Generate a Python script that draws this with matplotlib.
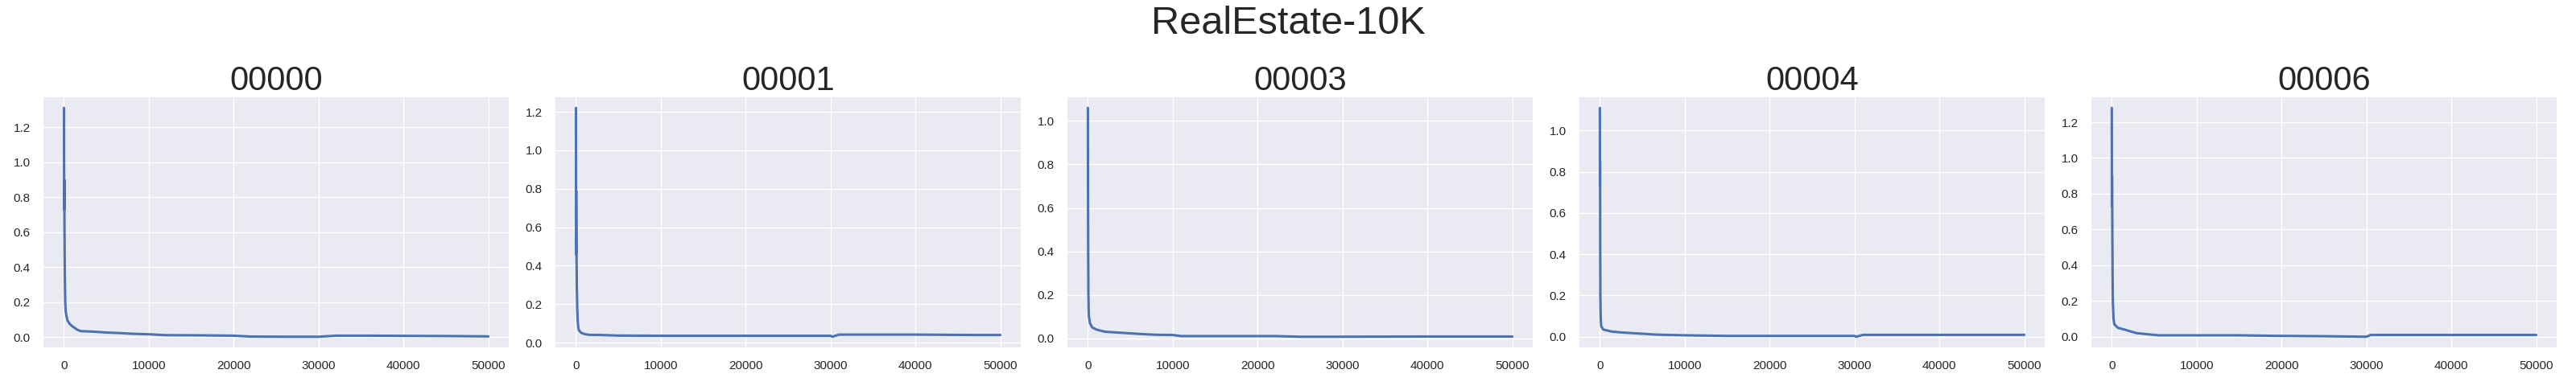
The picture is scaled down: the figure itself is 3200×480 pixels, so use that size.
"""
Training-loss curves for five RealEstate-10K scenes, one panel per scene.
"""
import matplotlib
matplotlib.use("Agg")
import matplotlib.pyplot as plt
import seaborn as sns

# --------------------------------------------------------------------------- #
# Data
# --------------------------------------------------------------------------- #
SUPTITLE = "RealEstate-10K"
RUN_IDS = ["00000", "00001", "00003", "00004", "00006"]

STEPS_00000 = [0, 10, 25, 40, 60, 90, 120, 150, 200, 300, 420, 700, 1000, 1600,
               2000, 3500, 5000, 6500, 8000, 10000, 12000, 16000, 20000, 22000,
               26000, 30000, 32000, 36000, 40000, 45000, 50000]
LOSS_00000 = [1.31, 0.95, 0.73, 0.90, 0.62, 0.41, 0.28, 0.20, 0.15, 0.12, 0.095,
              0.075, 0.062, 0.042, 0.035, 0.032, 0.027, 0.024, 0.020, 0.017,
              0.012, 0.011, 0.009, 0.004, 0.003, 0.003, 0.009, 0.009, 0.008,
              0.007, 0.005]

STEPS_00001 = [0, 15, 30, 50, 70, 100, 150, 200, 260, 340, 600, 1000, 1500,
               3000, 5000, 10000, 20000, 30000, 30200, 31000, 40000, 47000, 50000]
LOSS_00001 = [1.22, 0.46, 0.79, 0.60, 0.45, 0.30, 0.18, 0.12, 0.085, 0.065,
              0.052, 0.045, 0.041, 0.040, 0.037, 0.036, 0.036, 0.036, 0.031,
              0.042, 0.042, 0.040, 0.040]

STEPS_00003 = [0, 10, 25, 40, 60, 90, 120, 240, 500, 1000, 2000, 4000, 6000,
               8000, 10000, 11000, 22000, 25000, 30000, 40000, 50000]
LOSS_00003 = [1.06, 0.73, 0.50, 0.35, 0.20, 0.14, 0.10, 0.07, 0.05, 0.04, 0.03,
              0.025, 0.02, 0.016, 0.015, 0.01, 0.01, 0.007, 0.007, 0.008, 0.008]

STEPS_00004 = [0, 10, 25, 40, 60, 100, 160, 400, 1400, 2800, 4800, 6800, 10000,
               15000, 30000, 30200, 31000, 40000, 50000]
LOSS_00004 = [1.11, 0.73, 0.85, 0.45, 0.20, 0.09, 0.051, 0.035, 0.025, 0.02,
              0.015, 0.01, 0.007, 0.004, 0.004, 0.0, 0.009, 0.009, 0.009]

STEPS_00006 = [0, 10, 25, 40, 60, 90, 120, 200, 300, 700, 1500, 2200, 2900,
               4000, 5500, 15000, 19000, 25000, 30000, 30500, 40000, 50000]
LOSS_00006 = [1.28, 0.73, 0.90, 0.83, 0.60, 0.35, 0.20, 0.10, 0.07, 0.05, 0.04,
              0.03, 0.02, 0.015, 0.008, 0.008, 0.005, 0.003, 0.0, 0.01, 0.01, 0.01]

SERIES = [
    (STEPS_00000, LOSS_00000),
    (STEPS_00001, LOSS_00001),
    (STEPS_00003, LOSS_00003),
    (STEPS_00004, LOSS_00004),
    (STEPS_00006, LOSS_00006),
]


def main() -> None:
    sns.set_theme(style="darkgrid")
    plt.rcParams["font.family"] = ["Liberation Sans", "DejaVu Sans"]

    fig, axes = plt.subplots(1, len(RUN_IDS), figsize=(32, 4.8), dpi=100)
    fig.subplots_adjust(left=0.0166, right=0.9928, top=0.75, bottom=0.098,
                        wspace=0.0966)

    for ax, run_id, (steps, loss) in zip(axes, RUN_IDS, SERIES):
        ax.plot(steps, loss, color="#4c72b0", lw=2.2)
        ax.set_title(run_id, fontsize=30)
        ax.tick_params(labelsize=11, pad=5)

    fig.suptitle(SUPTITLE, fontsize=35, y=0.985)
    fig.savefig("out.png")
    plt.close(fig)


if __name__ == "__main__":
    main()
